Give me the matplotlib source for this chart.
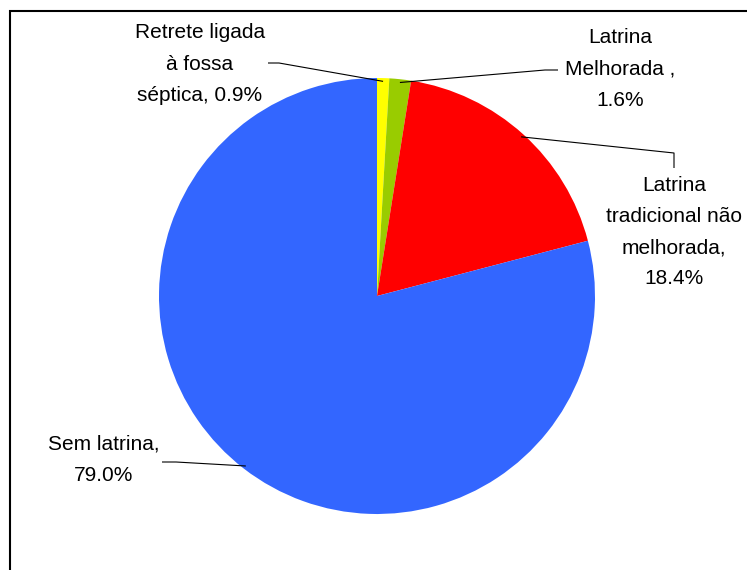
import numpy as np
import matplotlib
matplotlib.use("Agg")
import matplotlib.pyplot as plt
from matplotlib.patches import Rectangle

labels = ["Retrete ligada\nà fossa\nséptica, 0.9%",
          "Latrina\nMelhorada ,\n1.6%",
          "Latrina\ntradicional não\nmelhorada,\n18.4%",
          "Sem latrina,\n79.0%"]
values = [0.9, 1.6, 18.4, 79.0]
colors = ["#FFFF00", "#99CC00", "#FF0000", "#3366FF"]

W, H = 747, 570
fig = plt.figure(figsize=(W / 100, H / 100), dpi=100)
ax = fig.add_axes([0, 0, 1, 1])

cx, cy, R = 377, H - 296, 218
wedges, _ = ax.pie(values, colors=colors, startangle=90, counterclock=False,
                   center=(cx, cy), radius=R, frame=True,
                   wedgeprops=dict(linewidth=0))
ax.set_xlim(0, W)
ax.set_ylim(0, H)
ax.set_aspect("equal")
ax.axis("off")

# label layout (pixel coords from top): text center, leader polyline points (label side)
layout = [
    dict(text=(200, 64), pts=[(268, 63), (279, 63)]),
    dict(text=(620, 69), pts=[(558, 70), (545, 70)]),
    dict(text=(674, 232), pts=[(674, 168), (674, 153)]),
    dict(text=(104, 460), pts=[(162, 462), (176, 462)]),
]

tot = sum(values)
start = 90.0
for v, lab, lay in zip(values, labels, layout):
    span = 360.0 * v / tot
    mid = np.deg2rad(start - span / 2)
    start -= span
    ex = cx + 0.985 * R * np.cos(mid)
    ey = cy + 0.985 * R * np.sin(mid)
    xs = [p[0] for p in lay["pts"]] + [ex]
    ys = [H - p[1] for p in lay["pts"]] + [ey]
    ax.plot(xs, ys, color="black", linewidth=0.8, solid_capstyle="butt")
    tx, ty = lay["text"]
    ax.text(tx, H - ty, lab, ha="center", va="center", fontsize=15,
            family="Liberation Sans", linespacing=1.82, color="black")

fig.patches.append(Rectangle((10 / W, -0.1), 1.2, 1.1 - 11.5 / H, transform=fig.transFigure,
                             fill=False, edgecolor="black", linewidth=1.5))

fig.savefig("out.png", dpi=100)
